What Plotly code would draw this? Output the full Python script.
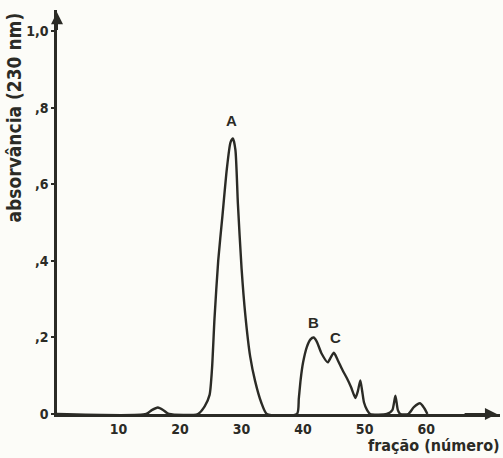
import plotly.graph_objects as go

# fraction number and absorbance (230 nm)
fracao = [0, 14.5, 15.4, 16.4, 17.3, 18.2,
          22.9, 24.0, 24.8, 25.2, 25.6, 26.2, 26.9, 27.6, 28.2, 28.6, 29.0, 29.4,
          30.0, 30.6, 31.4, 32.2, 33.2, 34.1,
          39.0, 39.3, 39.6, 40.0, 40.6, 41.2, 41.7, 42.2, 43.0, 44.0, 44.5, 45.0,
          45.6, 46.4, 47.1, 47.8, 48.5, 48.9, 49.3, 49.6, 49.9, 50.4, 50.9,
          53.6, 54.5, 55.0, 55.4, 55.8,
          57.1, 58.0, 59.0, 59.7, 60.2]
absorbancia = [0, 0, 0.010, 0.017, 0.010, 0,
               0, 0.02, 0.05, 0.12, 0.25, 0.40, 0.52, 0.64, 0.71, 0.72, 0.69, 0.55,
               0.38, 0.26, 0.15, 0.086, 0.03, 0,
               0, 0.04, 0.09, 0.135, 0.175, 0.195, 0.2, 0.19, 0.158, 0.135, 0.148, 0.16,
               0.142, 0.115, 0.094, 0.07, 0.042, 0.06, 0.088, 0.06, 0.03, 0.01, 0,
               0, 0.01, 0.048, 0.01, 0,
               0, 0.018, 0.028, 0.015, 0]

picos = ["A", "B", "C"]
picos_x = [28.6, 41.7, 45.2]
picos_y = [0.72, 0.2, 0.16]

y_ticks = [0, 0.2, 0.4, 0.6, 0.8, 1.0]
y_ticktext = ["0", ",2", ",4", ",6", ",8", "1,0"]
x_ticks = [10, 20, 30, 40, 50, 60]
x_ticktext = ["10", "20", "30", "40", "50", "60"]

ink = "#2b2b26"
narrow = "DejaVu Sans Condensed, Liberation Sans Narrow, sans-serif"

fig = go.Figure()
fig.add_trace(go.Scatter(x=fracao, y=absorbancia, mode="lines",
                         line=dict(color=ink, width=2.4, shape="spline", smoothing=0.6),
                         hoverinfo="skip", showlegend=False))

for t, px, py in zip(picos, picos_x, picos_y):
    fig.add_annotation(x=px, y=py, text=t, showarrow=False,
                       yshift=18 if t == "A" else 15, xshift=-1 if t == "A" else 0,
                       font=dict(family="Liberation Sans, Arial, sans-serif", size=15,
                                 color=ink, weight="bold"))

# axis arrows
fig.add_annotation(x=71.5, y=0, ax=66, ay=0, xref="x", yref="y", axref="x", ayref="y",
                   text="", showarrow=True, arrowhead=2, arrowsize=1.2, arrowwidth=2, arrowcolor=ink)
fig.add_annotation(x=0, y=1.05, ax=0, ay=1.0, xref="x", yref="y", axref="x", ayref="y",
                   text="", showarrow=True, arrowhead=2, arrowsize=1.2, arrowwidth=2, arrowcolor=ink)

fig.add_annotation(xref="paper", yref="paper", x=-0.098, y=0.733, text="absorvância (230 nm)",
                   textangle=-90, showarrow=False, xanchor="center", yanchor="middle",
                   font=dict(family=narrow, size=19, color=ink, weight="bold"))
fig.add_annotation(xref="paper", yref="paper", x=1.005, y=-0.079, text="fração (número)",
                   showarrow=False, xanchor="right", yanchor="middle",
                   font=dict(family=narrow, size=16, color=ink, weight="bold"))

fig.update_xaxes(range=[0, 72], tickmode="array", tickvals=x_ticks, ticktext=x_ticktext,
                 showline=True, linecolor=ink, linewidth=2.5, showgrid=False, zeroline=False,
                 ticks="", ticklen=0,
                 tickfont=dict(family=narrow, size=14, color=ink, weight="bold"))
fig.update_yaxes(range=[0, 1.056], tickmode="array", tickvals=y_ticks, ticktext=y_ticktext,
                 showline=True, linecolor=ink, linewidth=2.5, showgrid=False, zeroline=False,
                 ticks="outside", ticklen=3, tickwidth=2, tickcolor=ink,
                 tickfont=dict(family=narrow, size=14, color=ink, weight="bold"))

fig.update_layout(width=503, height=458, margin=dict(l=57, r=3, t=10, b=44),
                  paper_bgcolor="#fcfcf8", plot_bgcolor="#fcfcf8")
fig.write_html("out.html", config={"displayModeBar": False},
               post_script="document.body.style.margin='0';")
